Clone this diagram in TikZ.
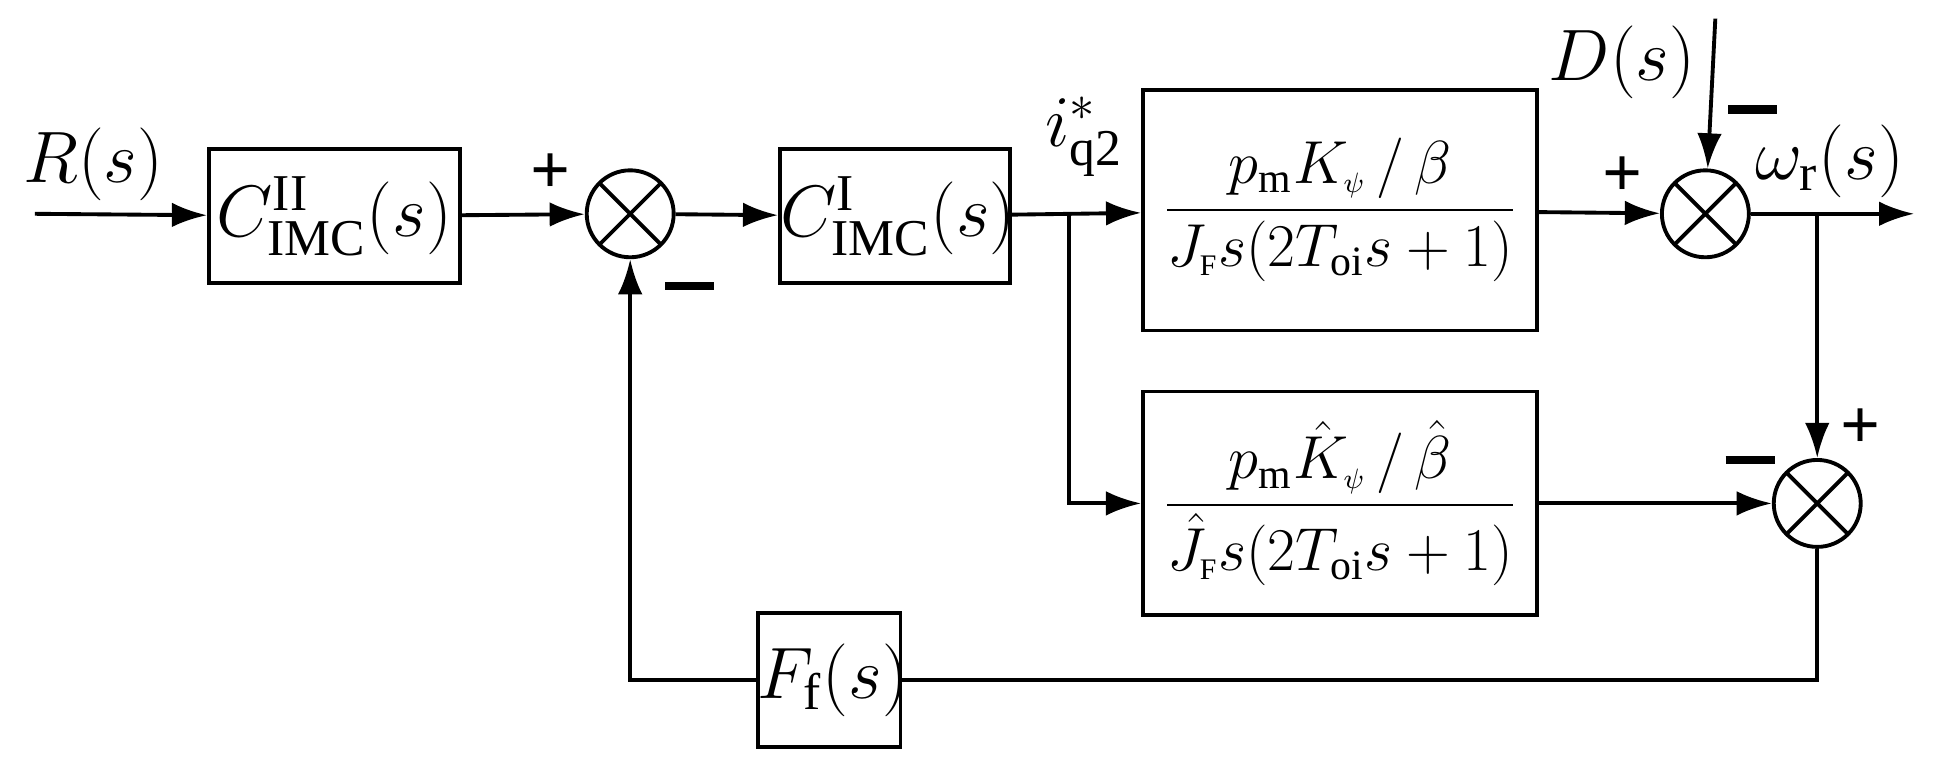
\documentclass[tikz,border=0pt]{standalone}
\usepackage{amsmath}
\usepackage{fontspec}
\setmainfont{Liberation Serif}
\usetikzlibrary{arrows.meta}
\begin{document}
\begin{tikzpicture}
[   x=0.01243cm,y=-0.01243cm,
    blk/.style={draw=black,line width=1.1pt,inner sep=0pt,align=center,font=\fontsize{21}{25}\selectfont},
    frc/.style={blk,font=\fontsize{17}{21}\selectfont},
    sumn/.style={draw=black,circle,line width=1.1pt,minimum size=0.87cm,inner sep=0pt,
        path picture={\draw[line width=1.1pt] (path picture bounding box.north west) -- (path picture bounding box.south east)
        (path picture bounding box.north east) -- (path picture bounding box.south west);}},
    sig/.style={line width=1.1pt,-{Latex[length=10pt,width=7pt]}},
    ln/.style={line width=1.1pt},
    lbl/.style={font=\fontsize{21}{25}\selectfont},
    sg/.style={font=\fontsize{20}{24}\selectfont\bfseries},
]
    \useasboundingbox (0,0) rectangle (1568,620);

    \node[blk,text width=2.51cm,minimum height=1.34cm] (cII) at (269,174) {$C^{\mathrm{II}}_{\mathrm{IMC}}(s)$};
    \node[sumn] (sum1) at (507,172) {};
    \node[blk,text width=2.3cm,minimum height=1.34cm] (cI) at (720,174) {$C^{\mathrm{I}}_{\mathrm{IMC}}(s)$};
    \node[frc,text width=3.94cm,minimum height=2.41cm] (gp) at (1078,169) {$\dfrac{p_{\mathrm{m}}K_{\scriptscriptstyle\psi}\,/\,\beta}{J_{\scriptscriptstyle\mathrm{F}}s(2T_{\mathrm{oi}}s+1)}$};
    \node[frc,text width=3.94cm,minimum height=2.24cm] (gm) at (1078,405) {$\dfrac{p_{\mathrm{m}}\hat{K}_{\scriptscriptstyle\psi}\,/\,\hat{\beta}}{\hat{J}_{\scriptscriptstyle\mathrm{F}}s(2T_{\mathrm{oi}}s+1)}$};
    \node[sumn] (sum2) at (1372,172) {};
    \node[sumn] (sum3) at (1462,405) {};
    \node[blk,text width=1.43cm,minimum height=1.34cm] (ff) at (667,547) {$F_{\mathrm{f}}(s)$};

    \coordinate (in) at (28,172);
    \coordinate (out) at (1540,172);
    \coordinate (d) at (1380,15);
    \coordinate (br1) at (860,172);
    \coordinate (br2) at (1462,172);

    \node[lbl] (rl) at (75,132) {$R(s)$};
    \node[lbl] (il) at (872,110) {$i^{*}_{\mathrm{q2}}$};
    \node[lbl] (dl) at (1305,50) {$D(s)$};
    \node[lbl] (wl) at (1472,130) {$\omega_{\mathrm{r}}(s)$};
    \node[sg] (p1) at (443,140) {+};
    \node[sg] (m1) at (555,230) {\rule{14pt}{2.5pt}};
    \node[sg] (p2) at (1305,142) {+};
    \node[sg] (m2) at (1410,88) {\rule{14pt}{2.5pt}};
    \node[sg] (p3) at (1497,345) {+};
    \node[sg] (m3) at (1408,370) {\rule{14pt}{2.5pt}};

    \draw[sig] (in) -- (cII);
    \draw[sig] (cII) -- (sum1);
    \draw[sig] (sum1) -- (cI);
    \draw[sig] (cI) -- (gp);
    \draw[sig] (gp) -- (sum2);
    \draw[sig] (d) -- (sum2);
    \draw[sig] (sum2) -- (out);
    \draw[sig] (br1) |- (gm);
    \draw[sig] (br2) -- (sum3);
    \draw[sig] (gm) -- (sum3);
    \draw[ln] (sum3) |- (ff);
    \draw[sig] (ff) -| (sum1);
\end{tikzpicture}
\end{document}
